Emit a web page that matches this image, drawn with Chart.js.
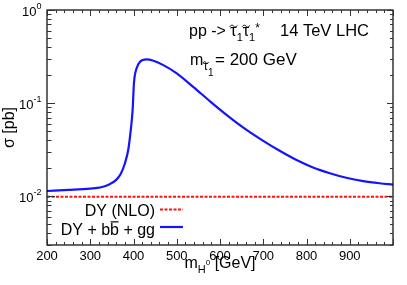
<!DOCTYPE html>
<html><head><meta charset="utf-8">
<script src="https://cdn.jsdelivr.net/npm/chart.js@4"></script>
<style>html,body{margin:0;padding:0;background:#fff}#wrap{width:407px;height:285px}</style>
</head><body><div id="wrap"><canvas id="c" width="407" height="285"></canvas></div>
<script>
// ---- data ----
const mass = [200, 250, 300, 325, 345, 360, 370, 380, 388, 393, 398, 401, 407, 415, 430, 446, 469, 500, 538, 577, 615, 654, 700, 738, 777, 815, 854, 892, 931, 969, 1000];
const sigmaTotal = [0.0114, 0.0117, 0.0121, 0.0125, 0.0135, 0.0150, 0.0172, 0.0225, 0.0318, 0.0482, 0.0848, 0.163, 0.236, 0.278, 0.295, 0.285, 0.256, 0.209, 0.1496, 0.1047, 0.0750, 0.0547, 0.0394, 0.0308, 0.0245, 0.0204, 0.0177, 0.0158, 0.01455, 0.0138, 0.01337];
const massDY = [200, 1000];
const sigmaDY = [0.0099, 0.0099];
const xTickValues = [200, 300, 400, 500, 600, 700, 800, 900];
const xTickLabels = ['200', '300', '400', '500', '600', '700', '800', '900'];
const yTickValues = [1, 0.1, 0.01];
const yTickBase = ['10', '10', '10'];
const yTickExp = ['0', '-1', '-2'];
const seriesLabels = ['DY (NLO)', 'DY + bb\u0304 + gg'];
const yTitle = '\u03c3 [pb]';

const FAM = '"Liberation Sans", Arial, Helvetica, sans-serif';
const BLUE = '#1414ff', RED = '#ff1010';

function f(sz){ return sz + 'px ' + FAM; }

// draw a run of text pieces: {t, size, dy, tilde, over, at}
function drawRun(ctx, x, y, pieces){
  let cx = x;
  for (const p of pieces){
    if (p.at !== undefined) cx = p.at;
    ctx.font = f(p.size);
    const w = ctx.measureText(p.t).width;
    ctx.fillText(p.t, cx, y + (p.dy||0));
    if (p.tilde){
      const mx = cx + w/2, ty = y + (p.dy||0) - p.size*0.62;
      const hw = p.size*0.24;
      ctx.save(); ctx.lineWidth = 1; ctx.strokeStyle = '#000';
      ctx.beginPath();
      ctx.moveTo(mx-hw, ty+0.6);
      ctx.bezierCurveTo(mx-hw*0.5, ty-1.8, mx, ty-0.8, mx+0.2, ty+0.2);
      ctx.bezierCurveTo(mx+0.4, ty+1.2, mx+hw*0.5, ty+1.8, mx+hw, ty-0.6);
      ctx.stroke(); ctx.restore();
    }
    if (p.over){
      const ty = y + (p.dy||0) - p.size*0.82;
      ctx.save(); ctx.lineWidth = 1.2; ctx.strokeStyle = '#000';
      ctx.beginPath(); ctx.moveTo(cx+0.5, ty); ctx.lineTo(cx+w-0.5, ty); ctx.stroke(); ctx.restore();
    }
    cx += w;
  }
  return cx - x;
}
function runWidth(ctx, pieces){
  let w = 0;
  for (const p of pieces){ ctx.font = f(p.size); w += ctx.measureText(p.t).width; }
  return w;
}

const deco = {
  id: 'deco',
  afterDraw(chart){
    const ctx = chart.ctx, a = chart.chartArea;
    const xs = chart.scales.x, ys = chart.scales.y;
    ctx.save();
    ctx.strokeStyle = '#000'; ctx.fillStyle = '#000';
    // frame
    ctx.lineWidth = 1.2;
    ctx.strokeRect(a.left, a.top, a.right - a.left, a.bottom - a.top);
    // x ticks
    ctx.lineWidth = 1;
    ctx.strokeStyle = '#333';
    ctx.beginPath();
    for (let v = 200; v <= 1000; v += 20){
      const px = Math.round(xs.getPixelForValue(v)) + 0.5;
      const major = (v % 100 === 0);
      const L = major ? 6 : 3;
      ctx.moveTo(px, a.bottom); ctx.lineTo(px, a.bottom - L);
      ctx.moveTo(px, a.top); ctx.lineTo(px, a.top + L);
    }
    // y ticks
    for (let e = -3; e <= 0; e++){
      for (let k = 1; k <= 9; k++){
        const v = k * Math.pow(10, e);
        if (v < ys.min*0.999 || v > ys.max*1.001) continue;
        const py = Math.round(ys.getPixelForValue(v)) + 0.5;
        const major = (k === 1);
        ctx.moveTo(a.left, py); ctx.lineTo(a.left + (major ? 8 : 4.5), py);
        ctx.moveTo(a.right, py); ctx.lineTo(a.right - (major ? 6 : 3), py);
        if (e === 0) break;
      }
    }
    ctx.stroke();
    ctx.strokeStyle = '#000';
    // y tick labels
    ctx.textBaseline = 'alphabetic';
    ctx.textAlign = 'right';
    yTickValues.forEach((v, i) => {
      let py = ys.getPixelForValue(v);
      const right = a.left - 5.5;
      ctx.font = f(9);
      const ew = ctx.measureText(yTickExp[i]).width;
      const eb = Math.max(py - 0.8, 6.5);
      ctx.fillText(yTickExp[i], right, eb);
      ctx.font = f(13);
      ctx.fillText(yTickBase[i], right - ew, eb + 6.5);
    });
    // x title
    ctx.textAlign = 'left';
    const xt = [
      {t:'m', size:16},
      {t:'H', size:11, dy:5},
      {t:'0', size:8, dy:-3},
      {t:' [GeV]', size:16}
    ];
    const xw = runWidth(ctx, xt);
    drawRun(ctx, (a.left + a.right)/2 - xw/2, 268, xt);
    // annotations
    drawRun(ctx, 189, 36, [
      {t:'pp -> ', size:16},
      {t:'\u03c4', size:16, tilde:true},
      {t:'1', size:11, dy:4.5},
      {t:'\u03c4', size:16, tilde:true},
      {t:'1', size:11, dy:4.5},
      {t:'*', size:12, dy:-4},
      {t:'14 TeV LHC', size:16.5, at:280}
    ]);
    drawRun(ctx, 190, 65, [
      {t:'m', size:16},
      {t:'\u03c4', size:12, dy:5, tilde:true},
      {t:'1', size:10, dy:10.5},
      {t:'= 200 GeV', size:17, at:215}
    ]);
    // legend
    const ds = chart.data.datasets;
    const rows = [
      {pieces:[{t:'DY (NLO)', size:16}], base:215.5, ly:209.5, ds: ds[1]},
      {pieces:[{t:'DY + b', size:16},{t:'b', size:16, over:true},{t:' + gg', size:16}], base:235, ly:227, ds: ds[0]}
    ];
    rows.forEach(r => {
      const w = runWidth(ctx, r.pieces);
      drawRun(ctx, 155 - w, r.base, r.pieces);
      ctx.save();
      ctx.strokeStyle = r.ds.borderColor; ctx.lineWidth = r.ds.borderWidth;
      ctx.setLineDash(r.ds.borderDash || []);
      ctx.beginPath(); ctx.moveTo(160, r.ly); ctx.lineTo(183, r.ly); ctx.stroke();
      ctx.restore();
    });
    ctx.restore();
  }
};

new Chart(document.getElementById('c'), {
  type: 'line',
  data: {
    datasets: [
      { label: seriesLabels[1], data: mass.map((m, i) => ({x: m, y: sigmaTotal[i]})),
        borderColor: BLUE, borderWidth: 2.2, pointRadius: 0, cubicInterpolationMode: 'monotone', fill: false },
      { label: seriesLabels[0], data: massDY.map((m, i) => ({x: m, y: sigmaDY[i]})),
        borderColor: RED, borderWidth: 2, borderDash: [3, 1.5], pointRadius: 0, fill: false }
    ]
  },
  options: {
    responsive: false, animation: false, devicePixelRatio: 1,
    layout: { padding: { left: 0, right: 14, top: 10, bottom: 0 } },
    plugins: { legend: { display: false }, tooltip: { enabled: false } },
    scales: {
      x: {
        type: 'linear', min: 200, max: 1000,
        afterBuildTicks(s){ s.ticks = xTickValues.map(v => ({value: v})); },
        afterFit(s){ s.height = 40; },
        grid: { display: false, drawTicks: false }, border: { display: false },
        ticks: { padding: 4, color: '#000', font: { size: 13, family: FAM }, maxRotation: 0, autoSkip: false,
                 callback: (v) => xTickLabels[xTickValues.indexOf(v)] }
      },
      y: {
        type: 'logarithmic', min: 0.003, max: 1,
        afterBuildTicks(s){ s.ticks = yTickValues.map(v => ({value: v})); },
        afterFit(s){ s.width = 47; },
        grid: { display: false, drawTicks: false }, border: { display: false },
        ticks: { display: false },
        title: { display: true, text: yTitle, color: '#000', font: { size: 16, family: FAM }, padding: 0 }
      }
    }
  },
  plugins: [deco]
});
</script>
</body></html>
